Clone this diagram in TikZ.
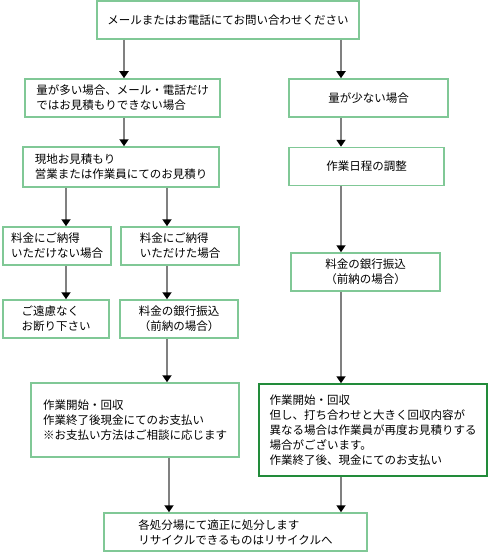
\documentclass[tikz,border=0pt]{standalone}
\usepackage{fontspec}
\setmainfont{Noto Sans CJK JP}
\usetikzlibrary{arrows.meta}
\definecolor{FlowGreen}{HTML}{80C896}
\definecolor{DarkGreen}{HTML}{228B3A}
\definecolor{LineGray}{HTML}{808080}

\begin{document}
\begin{tikzpicture}[x=1pt,y=-1pt,
every node/.style={font=\fontsize{11.5}{15}\selectfont},
box/.style={draw=FlowGreen,line width=1.5pt,fill=white,align=left,minimum height=38pt,inner sep=2pt},
arr/.style={-{Triangle[black,length=7pt,width=9pt]},line width=2pt,LineGray}]
\useasboundingbox (0,0) rectangle (488,559);
% columns of the connectors
\coordinate (colT) at (124,0);
\coordinate (colA) at (66,0);
\coordinate (colB) at (167,0);
\coordinate (colC) at (341,0);
\node[box,minimum width=262pt] (ask) at (228,20) {メールまたはお電話にてお問い合わせください};
\node[box,minimum width=195pt] (many) at (122.5,98) {量が多い場合、メール・電話だけ\\ではお見積もりできない場合};
\node[box,minimum width=159pt] (few) at (368.5,98) {量が少ない場合};
\node[box,minimum width=196pt,minimum height=40pt] (visit) at (121,167) {現地お見積もり\\営業または作業員にてのお見積り};
\node[box,minimum width=155pt] (sched) at (366.5,166.5) {作業日程の調整};
\node[box,minimum width=108pt] (nodeal) at (57,246) {料金にご納得\\いただけない場合};
\node[box,minimum width=118pt] (deal) at (180,246) {料金にご納得\\いただけた場合};
\node[box,minimum width=106pt] (refuse) at (56,319) {ご遠慮なく\\お断り下さい};
\node[box,minimum width=118pt] (payL) at (179,319) {料金の銀行振込\\（前納の場合）};
\node[box,minimum width=149pt] (payR) at (365.5,272) {料金の銀行振込\\（前納の場合）};
\node[box,minimum width=208pt,minimum height=74pt] (workL) at (135,420) {作業開始・回収\\作業終了後現金にてのお支払い\\※お支払い方法はご相談に応じます};
\node[box,draw=DarkGreen,minimum width=228pt,minimum height=92pt] (workR) at (373,430) {作業開始・回収\\但し、打ち合わせと大きく回収内容が\\異なる場合は作業員が再度お見積りする\\場合がございます。\\作業終了後、現金にてのお支払い};
\node[box,minimum width=263pt] (final) at (235.5,532) {各処分場にて適正に処分します\\リサイクルできるものはリサイクルへ};
% connectors
\draw[arr] (ask.south -| colT) -- (many.north -| colT);
\draw[arr] (ask.south -| colC) -- (few.north -| colC);
\draw[arr] (many.south -| colT) -- (visit.north -| colT);
\draw[arr] (few.south -| colC) -- (sched.north -| colC);
\draw[arr] (visit.south -| colA) -- (nodeal.north -| colA);
\draw[arr] (visit.south -| colB) -- (deal.north -| colB);
\draw[arr] (nodeal.south -| colA) -- (refuse.north -| colA);
\draw[arr] (deal.south -| colB) -- (payL.north -| colB);
\draw[arr] (sched.south -| colC) -- (payR.north -| colC);
\draw[arr] (payL.south -| colB) -- (workL.north -| colB);
\draw[arr] (payR.south -| colC) -- (workR.north -| colC);
\draw[arr] ([xshift=2pt]workL.south -| colB) -- ([xshift=2pt]final.north -| colB);
\draw[arr] (workR.south -| colC) -- (final.north -| colC);
\end{tikzpicture}
\end{document}
